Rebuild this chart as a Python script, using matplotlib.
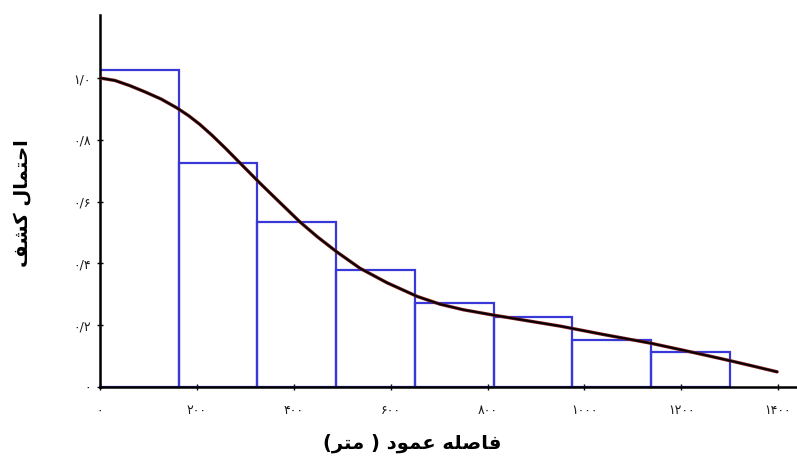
import matplotlib
matplotlib.use("Agg")
import matplotlib.pyplot as plt


# histogram: bin edges (m) and detection rates per bin
bin_width = 162.5
bin_left = [0, 162.5, 325, 487.5, 650, 812.5, 975, 1137.5]
bar_heights = [1.026, 0.725, 0.534, 0.379, 0.272, 0.227, 0.152, 0.113]

# fitted detection function
curve_x = [0, 31, 62, 93, 126, 159, 183, 206, 231, 260, 289, 330, 372, 413,
           448, 489, 537, 593, 655, 702, 750, 811, 880, 950, 1039, 1136,
           1198, 1250, 1301, 1350, 1398]
curve_y = [1.000, 0.992, 0.975, 0.955, 0.932, 0.903, 0.878, 0.850, 0.815,
           0.771, 0.725, 0.660, 0.596, 0.534, 0.487, 0.437, 0.384, 0.337,
           0.293, 0.268, 0.250, 0.233, 0.215, 0.197, 0.170, 0.142, 0.121,
           0.103, 0.085, 0.067, 0.049]

x_ticks = [0, 200, 400, 600, 800, 1000, 1200, 1400]
x_ticklabels = ["\u06f0", "\u06f2\u06f0\u06f0", "\u06f4\u06f0\u06f0", "\u06f6\u06f0\u06f0",
                "\u06f8\u06f0\u06f0", "\u06f1\u06f0\u06f0\u06f0", "\u06f1\u06f2\u06f0\u06f0",
                "\u06f1\u06f4\u06f0\u06f0"]
y_ticks = [0, 0.2, 0.4, 0.6, 0.8, 1.0]
y_ticklabels = ["\u06f0", "\u06f0/\u06f2", "\u06f0/\u06f4", "\u06f0/\u06f6",
                "\u06f0/\u06f8", "\u06f1/\u06f0"]

# labels written in visual order with presentation forms (no shaping engine available)
# "احتمال کشف"
y_label = "\ufed2\ufeb8\ufedb \ufedd\ufe8e\ufee4\ufe98\ufea3\ufe8d"
# "فاصله عمود (متر)"
x_label = "(\ufeae\ufe98\ufee3 ) \ufea9\ufeee\ufee4\ufecb \ufeea\ufee0\ufebb\ufe8e\ufed3"


#----------------------------------------------------------------------------------------------------
fig = plt.figure(figsize=(7.97, 4.57), dpi=100)
ax = fig.add_axes([0.1255, 0.1532, 0.8745, 0.814])

ax.bar(bin_left, bar_heights, width=bin_width, align='edge',
       fill=False, edgecolor='#3838d8', linewidth=1.6, zorder=2)

ax.plot(curve_x, curve_y, color='#7a1c1c', linewidth=2.4, zorder=3,
        solid_joinstyle='round', solid_capstyle='round')
ax.plot(curve_x, curve_y, color='black', linewidth=1.3, zorder=4,
        solid_joinstyle='round', solid_capstyle='round')

ax.set_xlim(0, 1439)
ax.set_ylim(0, 1.204)

ax.spines['top'].set_visible(False)
ax.spines['right'].set_visible(False)
ax.spines['left'].set_linewidth(1.8)
ax.spines['bottom'].set_linewidth(1.8)

ax.set_xticks(x_ticks)
ax.set_xticklabels(x_ticklabels, fontsize=9, family='DejaVu Sans', color='#1a1a1a')
ax.set_yticks(y_ticks)
ax.set_yticklabels(y_ticklabels, fontsize=9, family='DejaVu Sans', color='#1a1a1a')
ax.tick_params(axis='x', direction='inout', length=5, width=1, pad=10)
ax.tick_params(axis='y', direction='inout', length=5, width=1, pad=4)

fig.text(0.028, 0.556, y_label, rotation=90, ha='center', va='center',
         fontsize=14, fontweight='bold', family='DejaVu Sans')
fig.text(0.517, 0.031, x_label, ha='center', va='center',
         fontsize=14, fontweight='bold', family='DejaVu Sans')

fig.savefig('out.png', dpi=100)
